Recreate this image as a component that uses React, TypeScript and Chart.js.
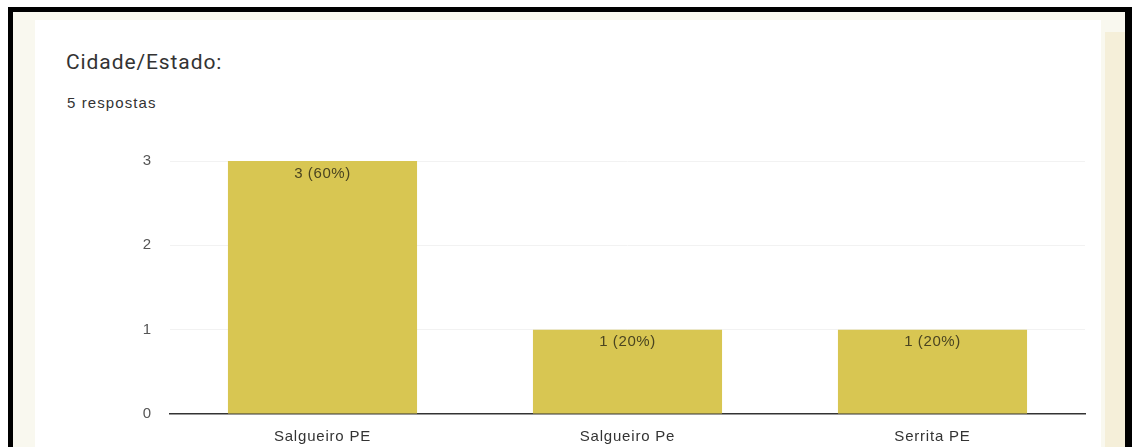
import React, { useEffect, useRef } from "react";
import { Chart, registerables } from "chart.js";

Chart.register(...registerables);

const categories = ["Salgueiro PE", "Salgueiro Pe", "Serrita PE"];
const counts = [3, 1, 1];
const yTicks = [0, 1, 2, 3];
const titleText = "Cidade/Estado:";
const subtitleText = "5 respostas";

const spacingPlugin = {
  id: "spacing",
  beforeDraw(chart: any) {
    (chart.ctx as any).letterSpacing = "0.8px";
  },
};

const barLabelPlugin = {
  id: "barLabels",
  afterDatasetsDraw(chart: any) {
    const ctx = chart.ctx;
    const meta = chart.getDatasetMeta(0);
    const total = counts.reduce((a, b) => a + b, 0);
    ctx.save();
    (ctx as any).letterSpacing = "0.6px";
    ctx.font = "15px Arial, 'Liberation Sans', sans-serif";
    ctx.fillStyle = "#4a4420";
    ctx.textAlign = "center";
    ctx.textBaseline = "top";
    meta.data.forEach((bar: any, i: number) => {
      const v = counts[i];
      const pct = Math.round((v / total) * 100);
      ctx.fillText(`${v} (${pct}%)`, bar.x, bar.y + 5);
    });
    ctx.restore();
  },
};

export default function App() {
  const ref = useRef<HTMLCanvasElement>(null);
  useEffect(() => {
    if (!ref.current) return;
    const chart = new Chart(ref.current, {
      type: "bar",
      data: {
        labels: categories,
        datasets: [
          {
            data: counts,
            backgroundColor: "#d8c652",
            borderWidth: 0,
            categoryPercentage: 0.62,
            barPercentage: 1,
          },
        ],
      },
      options: {
        animation: false,
        responsive: false,
        maintainAspectRatio: false,
        layout: { padding: { top: 15, right: 15, bottom: 0, left: 0 } },
        plugins: { legend: { display: false }, tooltip: { enabled: false } },
        scales: {
          x: {
            grid: { display: false },
            border: { display: true, color: "#333333", width: 1.5 },
            ticks: {
              color: "#333333",
              padding: 6,
              font: { family: "Arial, 'Liberation Sans', sans-serif", size: 15 },
            },
            afterFit(scale: any) {
              scale.height = 33;
            },
          },
          y: {
            min: 0,
            max: 3,
            afterBuildTicks(scale: any) {
              scale.ticks = yTicks.map((v) => ({ value: v }));
            },
            grid: {
              color: (c: any) => (c.tick && c.tick.value === 0 ? "rgba(0,0,0,0)" : "#f2f2f2"),
              drawTicks: false,
            },
            border: { display: false },
            ticks: {
              color: "#555555",
              padding: 18,
              font: { family: "Arial, 'Liberation Sans', sans-serif", size: 15 },
            },
            afterFit(scale: any) {
              scale.width = 70;
            },
          },
        },
      },
      plugins: [spacingPlugin, barLabelPlugin],
    });
    return () => chart.destroy();
  }, []);

  return (
    <div style={{ position: "fixed", left: 0, top: 0, width: 1133, height: 447, background: "#ffffff", overflow: "hidden" }}>
      <div
        style={{
          position: "absolute",
          left: 8,
          top: 7,
          width: 1112,
          height: 460,
          borderTop: "5px solid #000",
          borderLeft: "5px solid #000",
          borderRight: "7px solid #000",
          background: "#f9f8ef",
        }}
      >
        <div
          style={{
            position: "absolute",
            left: 22,
            top: 8,
            width: 1066,
            height: 460,
            background: "#ffffff",
          }}
        />
        <div
          style={{
            position: "absolute",
            right: 0,
            top: 20,
            width: 20,
            height: 460,
            background: "#f5efd9",
          }}
        />
      </div>
      <div
        style={{
          position: "absolute",
          left: 66,
          top: 50,
          fontFamily: "Roboto, Arial, sans-serif",
          fontSize: 21,
          fontWeight: 400,
          color: "#333",
          letterSpacing: 0.9,
          lineHeight: "24px",
        }}
      >
        {titleText}
      </div>
      <div
        style={{
          position: "absolute",
          left: 67,
          top: 94,
          fontFamily: "Arial, 'Liberation Sans', sans-serif",
          fontSize: 15,
          color: "#333",
          letterSpacing: 1.1,
          lineHeight: "18px",
        }}
      >
        {subtitleText}
      </div>
      <canvas ref={ref} width={1000} height={313} style={{ position: "absolute", left: 100, top: 134 }} />
    </div>
  );
}
